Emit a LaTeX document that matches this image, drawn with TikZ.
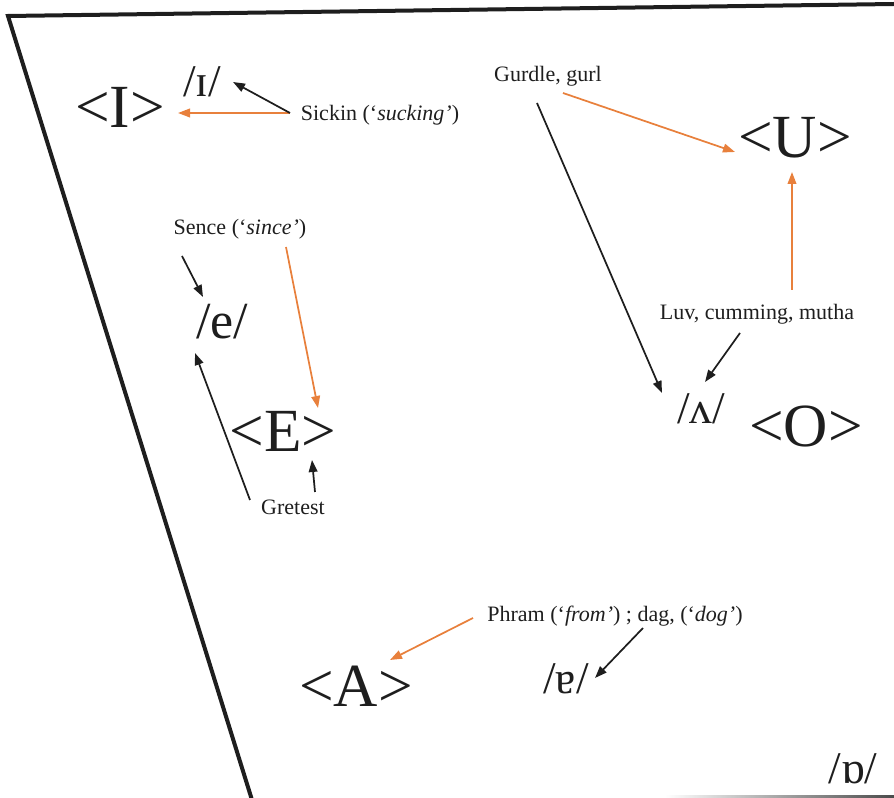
\documentclass[tikz,border=0pt]{standalone}
\usepackage{fontspec}
\setmainfont{Liberation Serif}
\usetikzlibrary{arrows.meta,calc}
\definecolor{org}{RGB}{232,128,60}
\definecolor{ink}{RGB}{30,30,30}
\begin{document}
\begin{tikzpicture}[x=0.75pt,y=-0.75pt,
  big/.style={inner sep=0pt,anchor=base,font=\fontsize{46}{50}\selectfont,text=ink},
  ipa/.style={inner sep=0pt,anchor=base,font=\fontsize{34}{38}\selectfont,text=ink},
  lbl/.style={inner sep=0pt,anchor=base,font=\fontsize{16.5}{19}\selectfont,text=ink},
  barr/.style={draw=ink,line width=1.3pt,-{Triangle[length=9pt,width=6.5pt]}},
  oarr/.style={draw=org,line width=1.3pt,-{Triangle[length=9pt,width=6.5pt]}}]
\useasboundingbox (0,0) rectangle (894,798);
% frame
\draw[ink,line width=3pt,line join=miter] (894,4) -- (8,16) -- (252,800);
\shade[left color=white,right color=ink!80] (665,795.5) rectangle (894,798.5);
% nodes
\node[big] (I) at (120,128) {<I>};
\node[ipa] (ipaI) at (202,97) {/ɪ/};
\node[lbl] (sickin) at (380,121) {Sickin (‘\textit{sucking’})};
\node[lbl] (gurdle) at (548,82) {Gurdle, gurl};
\node[big] (U) at (795,158) {<U>};
\node[lbl] (luv) at (757,320) {Luv, cumming, mutha};
\node[ipa] (wedge) at (701,424) {/ʌ/};
\node[big] (O) at (806,447) {<O>};
\node[lbl] (sence) at (240,235) {Sence (‘\textit{since’})};
\node[ipa,font=\fontsize{39}{42}\selectfont] (e) at (222,339) {/e/};
\node[big] (E) at (283,452) {<E>};
\node[lbl] (gretest) at (293,515) {Gretest};
\node[lbl] (phram) at (615,622) {Phram (‘\textit{from’}) ; dag, (‘\textit{dog’})};
\node[big] (A) at (356,707) {<A>};
\node[ipa] (ipaA) at (566,694) {/ɐ/};
\node[ipa] (ipaO) at (853,784) {/ɒ/};
% connectors
\draw[oarr] ($(sickin.base)+(-90,-8)$) -- ($(I.base)+(58,-15)$);
\draw[barr] ($(sickin.base)+(-90,-8)$) -- ($(ipaI.base)+(31,-15)$);
\draw[oarr] ($(gurdle.base)+(15,11)$) -- ($(U.base)+(-60,-6)$);
\draw[barr] ($(gurdle.base)+(-11,21)$) -- ($(wedge.base)+(-39,-31)$);
\draw[oarr] ($(luv.base)+(35,-30)$) -- ($(U.base)+(-3,14)$);
\draw[barr] ($(luv.base)+(-17,13)$) -- ($(wedge.base)+(4,-42)$);
\draw[barr] ($(sence.base)+(-58,21)$) -- ($(e.base)+(-19,-42)$);
\draw[oarr] ($(sence.base)+(46,12)$) -- ($(E.base)+(35,-44)$);
\draw[barr] ($(gretest.base)+(-43,-15)$) -- ($(e.base)+(-27,14)$);
\draw[barr] ($(gretest.base)+(22,-23)$) -- ($(E.base)+(29,8)$);
\draw[oarr] ($(phram.base)+(-142,-4)$) -- ($(A.base)+(34,-47)$);
\draw[barr] ($(phram.base)+(28,6)$) -- ($(ipaA.base)+(29,-16)$);
\end{tikzpicture}
\end{document}
